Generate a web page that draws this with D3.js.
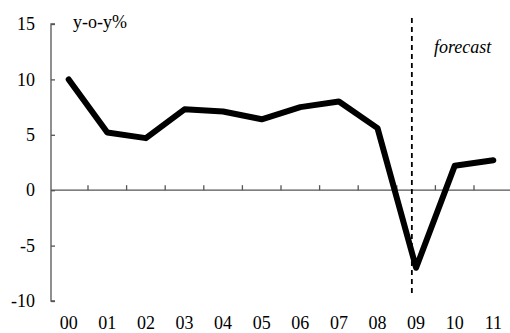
<!DOCTYPE html>
<html><head><meta charset="utf-8">
<script src="https://cdn.jsdelivr.net/npm/d3@7"></script>
<style>body{margin:0;background:#fff}svg{display:block}svg text{font-family:"Liberation Serif","Times New Roman",Tinos,serif;font-size:18px}</style>
</head><body>
<script>
const categories = ["00","01","02","03","04","05","06","07","08","09","10","11"];
const values = [10.0, 5.2, 4.7, 7.3, 7.1, 6.4, 7.5, 8.0, 5.6, -7.0, 2.2, 2.7];
const yTicks = [15, 10, 5, 0, -5, -10];
const unitLabel = "y-o-y%";
const forecastLabel = "forecast";
const forecastAt = 9.39; // in category-index units (band start = index)

const W = 510, H = 333;
const svg = d3.select("body").append("svg").attr("width", W).attr("height", H);

const x = d3.scaleBand().domain(categories).range([49.4, 512.6]).paddingInner(0).paddingOuter(0);
const y = d3.scaleLinear().domain([-10, 15]).range([301, 24]);
const xi = d3.scaleLinear().domain([0, categories.length]).range(x.range());
const cx = d => x(d) + x.bandwidth() / 2;
const axisX = 51;
const axisColor = "#555";

// y axis
const yAxis = d3.axisRight(y).tickValues(yTicks).tickSize(4).tickFormat("");
const gy = svg.append("g").attr("transform", `translate(${axisX},0)`).call(yAxis);
gy.select(".domain").attr("stroke", axisColor).attr("stroke-width", 1.3).attr("d", `M4,${y(15)}H0V${y(-10)}H4`);
gy.selectAll(".tick line").attr("stroke", axisColor).attr("stroke-width", 1.3);
svg.append("g").selectAll("text").data(yTicks).join("text")
  .attr("x", 35).attr("y", d => y(d)).attr("dy", "0.34em")
  .attr("text-anchor", "end").text(d => d);

// x axis at zero
svg.append("line").attr("x1", axisX).attr("x2", W).attr("y1", y(0)).attr("y2", y(0))
  .attr("stroke", axisColor).attr("stroke-width", 1.3);
svg.append("g").selectAll("line").data(categories.slice(1)).join("line")
  .attr("x1", d => x(d)).attr("x2", d => x(d))
  .attr("y1", y(0)).attr("y2", y(0) - 5)
  .attr("stroke", axisColor).attr("stroke-width", 1.3);
svg.append("g").selectAll("text").data(categories).join("text")
  .attr("x", d => cx(d)).attr("y", 329).attr("text-anchor", "middle").text(d => d);

// forecast dashed line
svg.append("line").attr("x1", xi(forecastAt)).attr("x2", xi(forecastAt))
  .attr("y1", 18).attr("y2", 294)
  .attr("stroke", "#000").attr("stroke-width", 1.8).attr("stroke-dasharray", "5,4");

// data line
const line = d3.line().x((d, i) => cx(categories[i])).y(d => y(d));
svg.append("path").datum(values).attr("d", line)
  .attr("fill", "none").attr("stroke", "#000").attr("stroke-width", 6)
  .attr("stroke-linejoin", "round").attr("stroke-linecap", "round");

// labels
svg.append("text").attr("x", 73).attr("y", 28).text(unitLabel);
svg.append("text").attr("x", 434).attr("y", 53).style("font-style", "italic").text(forecastLabel);
</script>
</body></html>
